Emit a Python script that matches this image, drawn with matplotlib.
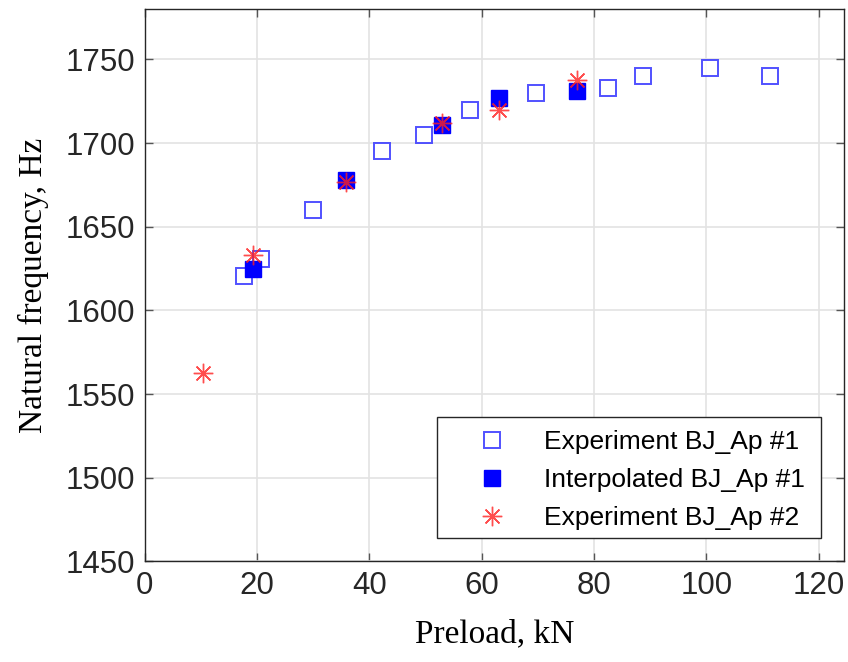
import matplotlib
matplotlib.use("Agg")
import matplotlib.pyplot as plt
from matplotlib.patches import Rectangle

# ---- data ----
exp1_preload = [17.6, 20.7, 29.9, 42.3, 49.8, 57.9, 69.6, 82.5, 88.7, 100.6, 111.4]
exp1_freq = [1620.5, 1630.5, 1660, 1695, 1705, 1720, 1730, 1733, 1740, 1745, 1740]

interp_preload = [19.2, 35.9, 53.0, 63.0, 76.9]
interp_freq = [1625, 1678, 1711, 1727, 1731]

exp2_preload = [10.3, 19.2, 35.9, 53.0, 63.0, 76.9]
exp2_freq = [1562.5, 1633, 1676.5, 1712, 1720, 1737.5]

x_ticks = [0, 20, 40, 60, 80, 100, 120]
y_ticks = [1450, 1500, 1550, 1600, 1650, 1700, 1750]

# ---- figure ----
fig = plt.figure(figsize=(8.48, 6.62), dpi=100)
ax = fig.add_axes([0.1706, 0.1521, 0.8247, 0.8339])

ax.plot(exp1_preload, exp1_freq, linestyle='none', marker='s', markersize=11.5,
        markerfacecolor='white', markeredgecolor='#3333ff', markeredgewidth=1.4,
        alpha=0.85, label='Experiment BJ_Ap #1')
ax.plot(interp_preload, interp_freq, linestyle='none', marker='s', markersize=11.5,
        markerfacecolor='#0000ff', markeredgecolor='#0000ff',
        label='Interpolated BJ_Ap #1')
ax.plot(exp2_preload, exp2_freq, linestyle='none', marker=(8, 2, 0), markersize=14,
        markeredgecolor='#ff2020', markeredgewidth=1.0, alpha=0.8,
        label='Experiment BJ_Ap #2')

ax.set_xlim(0, 124.5)
ax.set_ylim(1450, 1780)
ax.set_xticks(x_ticks)
ax.set_yticks(y_ticks)

ax.grid(True, color='#e3e3e3', linewidth=1.2)
ax.set_axisbelow(True)

for s in ax.spines.values():
    s.set_color('#262626')
    s.set_linewidth(1.0)

ax.tick_params(axis='both', direction='in', length=6, width=1, color='#555555',
               top=True, right=True, labelsize=22.5, labelcolor='#262626', pad=7)
for lab in ax.get_xticklabels() + ax.get_yticklabels():
    lab.set_family('Liberation Sans')

ax.set_xlabel('Preload, kN', family='Liberation Serif', fontsize=24, labelpad=13)
ax.set_ylabel('Natural frequency, Hz', family='Liberation Serif', fontsize=24, labelpad=12)

# legend box drawn separately so the padding matches the original
box = Rectangle((0.418, 0.0422), 0.549, 0.2192, transform=ax.transAxes,
                facecolor='white', edgecolor='#262626', linewidth=1.0, zorder=4.9)
ax.add_patch(box)

leg = ax.legend(loc='lower right', bbox_to_anchor=(0.944, 0.056), borderaxespad=0,
                frameon=False, prop={'family': 'Liberation Sans', 'size': 19},
                handletextpad=0.5, borderpad=0, labelspacing=0.53, handlelength=2.95)
leg.set_zorder(5)

fig.savefig('out.png', dpi=100)
